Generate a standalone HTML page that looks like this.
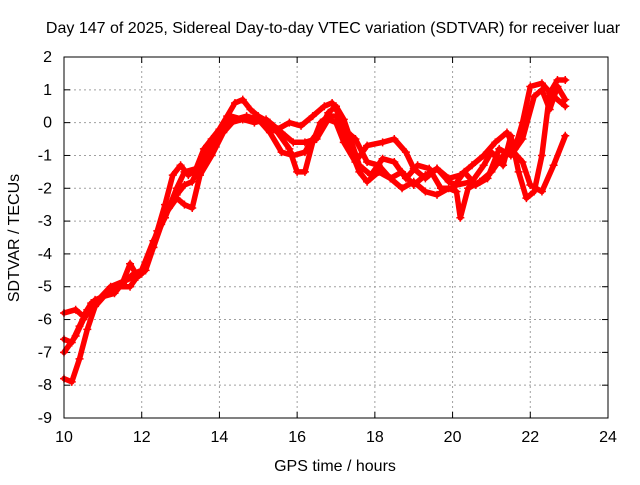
<!DOCTYPE html>
<html><head><meta charset="utf-8"><style>
body{margin:0;background:#fff;}
svg text{font-family:"Liberation Sans",sans-serif;font-size:16px;fill:#000;}
</style></head><body>
<svg id="chart" width="640" height="480" viewBox="0 0 640 480" xmlns="http://www.w3.org/2000/svg">
<text x="333" y="33" text-anchor="middle">Day 147 of 2025, Sidereal Day-to-day VTEC variation (SDTVAR) for receiver luar</text>
<text x="335" y="471" text-anchor="middle">GPS time / hours</text>
<text transform="translate(19,238) rotate(-90)" text-anchor="middle">SDTVAR / TECUs</text>
<g id="grid"></g>
<g id="ticks"></g>
<g id="series"></g>
<rect x="64" y="57" width="544" height="361" fill="none" stroke="#000" stroke-width="1"/>
</svg>
<script>
const xTicks=[10,12,14,16,18,20,22,24];
const yTicks=[2,1,0,-1,-2,-3,-4,-5,-6,-7,-8,-9];
const traceAx=[10.0,10.3,10.5,10.7,11.0,11.3,11.6,11.8,12.0,12.2,12.4,12.6,12.8,13.0,13.2,13.4,13.6,13.8,14.0,14.2,14.4,14.6,14.8,15.0,15.3,15.6,15.9,16.2,16.5,16.8,17.0,17.2,17.5,17.8,18.2,18.5,18.8,19.0,19.3,19.6,19.9,20.2,20.5,20.8,21.1,21.4,21.6,21.8,22.0,22.3,22.6,22.9];
const traceAy=[-5.8,-5.7,-5.9,-5.5,-5.3,-5.0,-4.8,-4.6,-4.5,-4.0,-3.3,-2.5,-1.6,-1.3,-1.6,-1.4,-0.8,-0.5,-0.2,0.2,0.6,0.7,0.4,0.2,0.0,-0.3,-0.6,-0.6,-0.5,0.1,0.0,-0.6,-1.2,-0.7,-0.6,-0.5,-0.9,-1.4,-1.7,-1.4,-1.7,-1.6,-1.3,-1.0,-0.6,-0.3,-0.8,0.0,1.1,1.2,0.8,0.5];
const traceBx=[10.0,10.2,10.4,10.6,10.8,11.0,11.3,11.5,11.7,11.9,12.1,12.3,12.5,12.7,12.9,13.1,13.3,13.5,13.8,14.0,14.3,14.6,14.9,15.2,15.5,15.8,16.1,16.4,16.7,16.9,17.1,17.3,17.5,17.8,18.1,18.4,18.7,19.0,19.3,19.6,19.9,20.1,20.5,20.8,21.0,21.3,21.5,21.7,21.9,22.1,22.3,22.5,22.7,22.9];
const traceBy=[-6.6,-6.7,-6.2,-5.7,-5.4,-5.3,-5.2,-4.9,-4.3,-4.7,-4.5,-3.8,-3.1,-2.6,-2.2,-1.9,-1.8,-1.3,-0.7,-0.3,0.0,0.1,0.0,0.1,-0.2,0.0,-0.1,0.2,0.5,0.6,0.2,-0.3,-0.5,-1.2,-1.3,-1.7,-1.5,-1.9,-1.6,-1.4,-1.8,-1.9,-1.8,-1.3,-0.9,-1.3,-0.4,-1.5,-2.3,-2.1,-1.0,0.9,1.3,1.3];
const traceCx=[10.0,10.3,10.5,10.8,11.2,11.6,12.0,12.3,12.6,12.9,13.1,13.3,13.5,13.8,14.1,14.4,14.7,15.0,15.3,15.6,15.9,16.2,16.4,16.6,16.8,17.0,17.2,17.4,17.6,17.9,18.2,18.5,18.8,19.1,19.4,19.7,20.0,20.3,20.6,20.9,21.2,21.5,21.8,22.1,22.3,22.5,22.7,22.9];
const traceCy=[-7.0,-6.5,-6.0,-5.5,-5.0,-4.8,-4.6,-3.8,-2.8,-2.3,-2.5,-2.6,-1.6,-1.0,-0.3,0.1,0.2,0.1,-0.3,-0.9,-1.0,-0.9,-0.5,-0.2,0.3,0.5,0.1,-0.6,-1.3,-1.6,-1.1,-1.2,-1.7,-1.3,-1.4,-2.0,-2.0,-1.5,-1.9,-1.7,-0.8,-1.0,-0.5,0.8,1.0,0.4,1.1,0.7];
const traceDx=[10.0,10.2,10.4,10.6,10.8,11.1,11.4,11.7,12.0,12.3,12.6,12.9,13.1,13.4,13.7,14.0,14.3,14.6,14.9,15.2,15.5,15.8,16.0,16.2,16.4,16.6,16.8,17.0,17.2,17.4,17.6,17.8,18.1,18.4,18.7,19.0,19.3,19.6,19.9,20.1,20.2,20.4,20.7,21.0,21.3,21.5,21.8,22.0,22.3,22.6,22.9];
const traceDy=[-7.8,-7.9,-7.2,-6.3,-5.6,-5.2,-5.0,-5.0,-4.5,-3.6,-2.9,-2.0,-1.5,-1.4,-0.8,-0.3,0.2,0.1,0.1,0.0,-0.3,-0.8,-1.5,-1.5,-0.6,0.0,0.2,0.2,-0.2,-0.9,-1.5,-1.8,-1.5,-1.7,-2.0,-1.8,-2.1,-2.2,-2.0,-2.1,-2.9,-2.0,-1.8,-1.5,-1.0,-0.8,-1.2,-1.9,-2.1,-1.3,-0.4];
const X0=64,X1=608,Y0=418,Y1=57;
function sx(v){return X0+(v-10)/(24-10)*(X1-X0);}
function sy(v){return Y0-(v-(-9))/(2-(-9))*(Y0-Y1);}
const NS="http://www.w3.org/2000/svg";
function mk(t,a,p){const e=document.createElementNS(NS,t);for(const k in a)e.setAttribute(k,a[k]);p.appendChild(e);return e;}
const grid=document.getElementById('grid'),ticks=document.getElementById('ticks'),series=document.getElementById('series');
xTicks.forEach(v=>{const x=sx(v);
 if(v>10&&v<24){const g=mk('line',{x1:x,y1:Y0,x2:x,y2:Y1,stroke:'#a0a0a0','stroke-dasharray':'2,3'},grid);}
 const t1=mk('line',{x1:x,y1:Y0,x2:x,y2:Y0-6,stroke:'#000'},ticks);
 const t2=mk('line',{x1:x,y1:Y1,x2:x,y2:Y1+6,stroke:'#000'},ticks);
 const l=mk('text',{x:x,y:442,'text-anchor':'middle'},ticks);l.textContent=v;});
yTicks.forEach(v=>{const y=sy(v);
 if(v<2&&v>-9){const g=mk('line',{x1:X0,y1:y,x2:X1,y2:y,stroke:'#a0a0a0','stroke-dasharray':'2,3'},grid);}
 const t1=mk('line',{x1:X0,y1:y,x2:X0+6,y2:y,stroke:'#000'},ticks);
 const t2=mk('line',{x1:X1,y1:y,x2:X1-6,y2:y,stroke:'#000'},ticks);
 const l=mk('text',{x:52,y:y+5,'text-anchor':'end'},ticks);l.textContent=v;});
[[traceAx,traceAy],[traceBx,traceBy],[traceCx,traceCy],[traceDx,traceDy]].forEach((tr,i)=>{
 const pts=tr[0].map((x,j)=>sx(x).toFixed(1)+','+sy(tr[1][j]).toFixed(1)).join(' ');
 const pl=mk('polyline',{points:pts,fill:'none',stroke:'#ff0000','stroke-width':5.5,'stroke-linejoin':'round','stroke-linecap':'round'},series);
 
 
 tr[0].forEach((x,j)=>{const px=sx(x),py=sy(tr[1][j]);
  const m=mk('path',{d:`M${px-4},${py}h8M${px},${py-4}v8`,stroke:'#ff0000','stroke-width':1.5},series);
  
  });
});
</script>
</body></html>
